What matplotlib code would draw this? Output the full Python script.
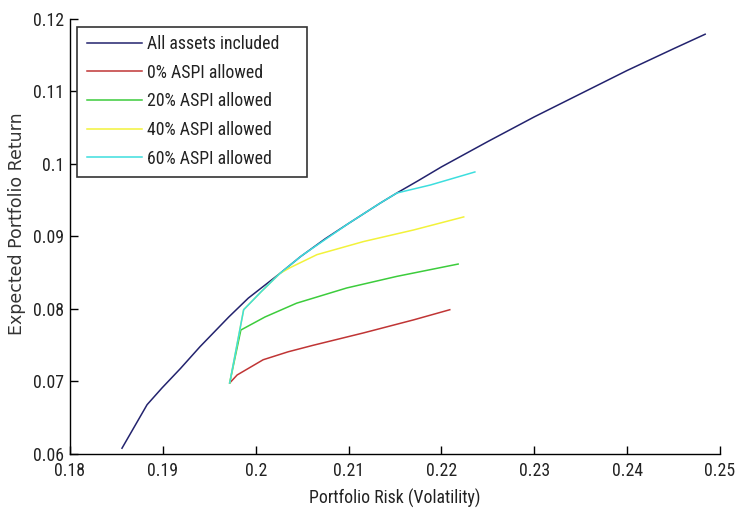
import matplotlib
matplotlib.use("Agg")
import matplotlib.pyplot as plt
from matplotlib import font_manager
from matplotlib.patches import Rectangle

names = {f.name for f in font_manager.fontManager.ttflist}
NARROW = "Liberation Sans"
for cand in ["Liberation Sans Narrow", "DejaVu Sans Condensed", "Roboto Condensed",
             "Open Sans Condensed", "Noto Sans Condensed", "Arial Narrow"]:
    if cand in names:
        NARROW = cand
        break
condensed_ok = NARROW != "Liberation Sans"
FS = 12.8 if condensed_ok else 11.5

# ---- data ----
all_risk = [0.1856, 0.1883, 0.1899, 0.1919, 0.1940, 0.1971, 0.1992, 0.2026, 0.2048,
            0.2075, 0.2100, 0.2134, 0.2152, 0.2175, 0.2200, 0.2250, 0.2300, 0.2350,
            0.2400, 0.2450, 0.2484]
all_ret = [0.0608, 0.0668, 0.0691, 0.0718, 0.0748, 0.0789, 0.0815, 0.0849, 0.0872,
           0.0897, 0.0918, 0.0946, 0.0960, 0.0977, 0.0996, 0.1031, 0.1065, 0.1097,
           0.1129, 0.1159, 0.1179]

p0_risk = [0.1972, 0.1980, 0.2008, 0.2035, 0.2062, 0.2116, 0.2170, 0.2209]
p0_ret = [0.0698, 0.0709, 0.0730, 0.0741, 0.0750, 0.0767, 0.0785, 0.0799]

p20_risk = [0.1972, 0.1984, 0.2010, 0.2044, 0.2098, 0.2152, 0.2218]
p20_ret = [0.0698, 0.0771, 0.0789, 0.0808, 0.0829, 0.0845, 0.0862]

p40_risk = [0.1972, 0.1987, 0.2006, 0.2026, 0.2037, 0.2066, 0.2116, 0.2170, 0.2224]
p40_ret = [0.0698, 0.0799, 0.0824, 0.0849, 0.0857, 0.0875, 0.0893, 0.0909, 0.0927]

p60_risk = [0.1972, 0.1987, 0.2006, 0.2026, 0.2050, 0.2100, 0.2134, 0.2152, 0.2188, 0.2236]
p60_ret = [0.0698, 0.0799, 0.0824, 0.0849, 0.0874, 0.0918, 0.0946, 0.0960, 0.0971, 0.0989]

labels = ["All assets included", "0% ASPI allowed", "20% ASPI allowed",
          "40% ASPI allowed", "60% ASPI allowed"]
colors = ["#23236e", "#c03535", "#3ccc3c", "#f2f23a", "#3ddede"]

xticks = [0.18, 0.19, 0.20, 0.21, 0.22, 0.23, 0.24, 0.25]
xticklabels = ["0.18", "0.19", "0.2", "0.21", "0.22", "0.23", "0.24", "0.25"]
yticks = [0.06, 0.07, 0.08, 0.09, 0.10, 0.11, 0.12]
yticklabels = ["0.06", "0.07", "0.08", "0.09", "0.1", "0.11", "0.12"]

W, H = 737, 512
fig = plt.figure(figsize=(W / 100, H / 100), dpi=100)
ax = fig.add_axes([70 / W, (H - 454) / H, 650 / W, 435 / H])

series = [(all_risk, all_ret), (p0_risk, p0_ret), (p20_risk, p20_ret),
          (p40_risk, p40_ret), (p60_risk, p60_ret)]
handles = []
for (xs, ys), c, lab in zip(series, colors, labels):
    h, = ax.plot(xs, ys, color=c, lw=1.1, label=lab)
    handles.append(h)

ax.set_xlim(0.18, 0.25)
ax.set_ylim(0.06, 0.12)
ax.set_xticks(xticks)
ax.set_xticklabels(xticklabels, fontfamily=NARROW, fontsize=FS)
ax.set_yticks(yticks)
ax.set_yticklabels(yticklabels, fontfamily=NARROW, fontsize=FS)
ax.tick_params(direction="in", length=6, width=1, color="black", labelcolor="#222222")
ax.tick_params(axis="x", pad=6)
ax.tick_params(axis="y", pad=4)
for s in ["top", "right"]:
    ax.spines[s].set_visible(False)
for s in ["left", "bottom"]:
    ax.spines[s].set_linewidth(1.0)

ax.set_xlabel("Portfolio Risk (Volatility)", fontfamily=NARROW, fontsize=FS,
              color="#222222")
ax.xaxis.set_label_coords((395 - 70) / 650, -(489 - 454) / 435)
ax.set_ylabel("Expected Portfolio Return", fontfamily="DejaVu Sans", fontsize=12.5,
              color="#333333")
ax.yaxis.set_label_coords((26 - 70) / 650, (454 - 224) / 435)

# legend box
bx0, by0, bx1, by1 = 76.7, 26.7, 306.7, 177.3
fig.patches.append(Rectangle((bx0 / W, 1 - by1 / H), (bx1 - bx0) / W, (by1 - by0) / H,
                             transform=fig.transFigure, fill=True, facecolor="white",
                             edgecolor="#333333", lw=1.2, zorder=5))
leg = fig.legend(handles=handles, labels=labels, loc="upper left",
                 bbox_to_anchor=(86.7 / W, 1 - 35 / H), frameon=False,
                 prop={"family": NARROW, "size": FS}, handlelength=55 / (FS * 100 / 72),
                 handletextpad=0.3, labelspacing=0.6, borderpad=0, borderaxespad=0)
for t in leg.get_texts():
    t.set_color("#222222")
leg.set_zorder(6)

fig.savefig("out.png", dpi=100)
